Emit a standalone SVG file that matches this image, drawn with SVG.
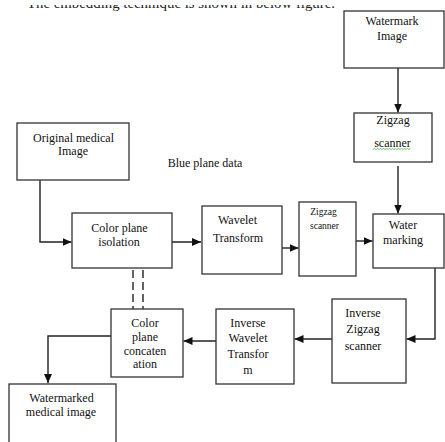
<svg xmlns="http://www.w3.org/2000/svg" width="445" height="442" viewBox="0 0 445 442">
<style>
  .box { fill: #ffffff; stroke: #333333; stroke-width: 1.3; }
  .t { font-family: "Liberation Serif", "Times New Roman", serif; font-size: 12px; fill: #111111; text-anchor: middle; }
  .ts { font-family: "Liberation Serif", "Times New Roman", serif; font-size: 9.5px; fill: #111111; text-anchor: middle; }
  .c { fill: none; stroke: #222222; stroke-width: 1.4; }
  .d { fill: none; stroke: #222222; stroke-width: 1.4; stroke-dasharray: 8 4; }
</style>
<defs>
  <marker id="ah" viewBox="0 0 10 10" refX="10" refY="5" markerWidth="9" markerHeight="8" markerUnits="userSpaceOnUse" orient="auto" preserveAspectRatio="none">
    <path d="M0,0 L10,5 L0,10 z" fill="#111111"/>
  </marker>
  <clipPath id="topclip" clipPathUnits="userSpaceOnUse"><rect x="0" y="5" width="340" height="8"/></clipPath>
</defs>
<rect x="0" y="0" width="445" height="442" fill="#ffffff"/>

<g id="fragment" clip-path="url(#topclip)">
  <text x="27" y="8" font-family="Liberation Serif, Times New Roman, serif" font-size="15" fill="#222" textLength="308" lengthAdjust="spacingAndGlyphs">The embedding technique is shown in below figure.</text>
</g>

<g id="connectors">
  <path class="c" d="M398,68 V112.5" marker-end="url(#ah)"/>
  <path class="c" d="M398,166 V213.5" marker-end="url(#ah)"/>
  <path class="c" d="M40,180 V242 H71.5" marker-end="url(#ah)"/>
  <path class="c" d="M168,242 H201" marker-end="url(#ah)"/>
  <path class="c" d="M282,248 H298.5" marker-end="url(#ah)"/>
  <path class="c" d="M356,241 H372.5" marker-end="url(#ah)"/>
  <path class="c" d="M435,268 V339 H406.5" marker-end="url(#ah)"/>
  <path class="c" d="M332,339 H294.5" marker-end="url(#ah)"/>
  <path class="c" d="M216,341 H183.5" marker-end="url(#ah)"/>
  <path class="c" d="M116,336 H48 V383" marker-end="url(#ah)"/>
  <path class="d" d="M133,270 V309"/>
  <path class="d" d="M143,270 V309"/>
</g>

<g id="watermark-image">
  <rect class="box" x="344" y="11" width="100" height="57"/>
  <text class="t" x="392" y="25">Watermark</text>
  <text class="t" x="392" y="40">Image</text>
</g>

<g id="zigzag-top">
  <rect class="box" x="354" y="113" width="78" height="49"/>
  <text class="t" x="393" y="124">Zigzag</text>
  <text class="t" x="392.5" y="147">scanner</text>
  <path d="M373,149.5 l1.5,-1 l1.5,1 l1.5,-1 l1.5,1 l1.5,-1 l1.5,1 l1.5,-1 l1.5,1 l1.5,-1 l1.5,1 l1.5,-1 l1.5,1 l1.5,-1 l1.5,1 l1.5,-1 l1.5,1 l1.5,-1 l1.5,1 l1.5,-1 l1.5,1 l1.5,-1 l1.5,1 l1.5,-1 l1.5,1 l1.5,-1" fill="none" stroke="#4caf50" stroke-width="0.8"/>
</g>

<g id="original">
  <rect class="box" x="17" y="123" width="112" height="57"/>
  <text class="t" x="73.5" y="142">Original medical</text>
  <text class="t" x="73" y="155">Image</text>
</g>

<g id="blue-label">
  <text class="t" x="205" y="167">Blue plane data</text>
</g>

<g id="color-isolation">
  <rect class="box" x="72" y="213" width="100" height="55"/>
  <text class="t" x="119.5" y="232">Color plane</text>
  <text class="t" x="119" y="246">isolation</text>
</g>

<g id="wavelet">
  <rect class="box" x="202" y="206" width="80" height="68"/>
  <text class="t" x="237.5" y="224">Wavelet</text>
  <text class="t" x="238" y="242">Transform</text>
</g>

<g id="zigzag-small">
  <rect class="box" x="299" y="202" width="57" height="74"/>
  <text class="ts" x="323.5" y="215">Zigzag</text>
  <text class="ts" x="324.5" y="229">scanner</text>
</g>

<g id="watermarking">
  <rect class="box" x="373" y="214" width="71" height="54"/>
  <text class="t" x="403" y="229">Water</text>
  <text class="t" x="403" y="244">marking</text>
</g>

<g id="inverse-zigzag">
  <rect class="box" x="332" y="299" width="74" height="84"/>
  <text class="t" x="363" y="317">Inverse</text>
  <text class="t" x="363" y="333">Zigzag</text>
  <text class="t" x="363" y="350">scanner</text>
</g>

<g id="inverse-wavelet">
  <rect class="box" x="216" y="309" width="78" height="75"/>
  <text class="t" x="248" y="327">Inverse</text>
  <text class="t" x="248" y="342">Wavelet</text>
  <text class="t" x="248" y="358">Transfor</text>
  <text class="t" x="248" y="374">m</text>
</g>

<g id="color-concat">
  <rect class="box" x="111" y="309" width="72" height="68"/>
  <text class="t" x="145" y="327">Color</text>
  <text class="t" x="145" y="341">plane</text>
  <text class="t" x="145" y="355">concaten</text>
  <text class="t" x="145" y="368">ation</text>
</g>

<g id="watermarked">
  <rect class="box" x="9" y="384" width="107" height="70"/>
  <text class="t" x="61.5" y="402">Watermarked</text>
  <text class="t" x="61" y="416">medical image</text>
</g>
</svg>
